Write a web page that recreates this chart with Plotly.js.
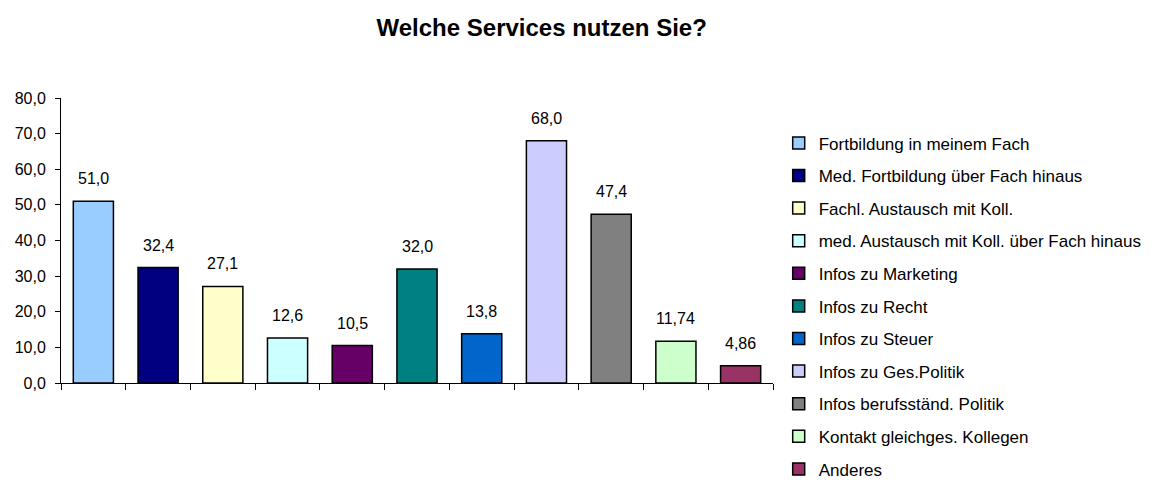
<!DOCTYPE html>
<html>
<head>
<meta charset="utf-8">
<script src="https://cdn.plot.ly/plotly-3.0.1.min.js"></script>
<style>html,body{margin:0;padding:0;background:#fff;}#chart{width:1170px;height:480px;}</style>
</head>
<body>
<div id="chart"></div>
<script>
const categories = [
  "Fortbildung in meinem Fach",
  "Med. Fortbildung über Fach hinaus",
  "Fachl. Austausch mit Koll.",
  "med. Austausch mit Koll. über Fach hinaus",
  "Infos zu Marketing",
  "Infos zu Recht",
  "Infos zu Steuer",
  "Infos zu Ges.Politik",
  "Infos berufsständ. Politik",
  "Kontakt gleichges. Kollegen",
  "Anderes"
];
const values = [51.0, 32.4, 27.1, 12.6, 10.5, 32.0, 13.8, 68.0, 47.4, 11.74, 4.86];
const valueLabels = ["51,0", "32,4", "27,1", "12,6", "10,5", "32,0", "13,8", "68,0", "47,4", "11,74", "4,86"];
const colors = ["#99CCFF", "#000080", "#FFFFCC", "#CCFFFF", "#660066", "#008080", "#0066CC", "#CCCCFF", "#808080", "#CCFFCC", "#993366"];
const yTickVals = [0, 10, 20, 30, 40, 50, 60, 70, 80];
const yTickText = ["0,0", "10,0", "20,0", "30,0", "40,0", "50,0", "60,0", "70,0", "80,0"];

const FONT = "Liberation Sans, Arial, sans-serif";

const traces = categories.map((name, i) => ({
  type: "bar",
  x: [i],
  y: [values[i]],
  width: [0.62],
  name: name,
  legendgroup: "g" + i,
  marker: { color: colors[i], line: { color: "#000000", width: 1.5 } },
  hoverinfo: "none"
}));

const annotations = categories.map((c, i) => ({
  x: i,
  y: values[i],
  xref: "x",
  yref: "y",
  text: valueLabels[i],
  showarrow: false,
  yanchor: "bottom",
  yshift: 12,
  font: { family: FONT, size: 16, color: "#000" }
}));

const xTickVals = [];
for (let k = 0; k <= categories.length; k++) xTickVals.push(k - 0.5);

const layout = {
  width: 1170,
  height: 480,
  paper_bgcolor: "#ffffff",
  plot_bgcolor: "#ffffff",
  margin: { l: 61, r: 397, t: 98, b: 97, autoexpand: false },
  barmode: "overlay",
  showlegend: true,
  title: {
    text: "<b>Welche Services nutzen Sie?</b>",
    font: { family: FONT, size: 24, color: "#000" },
    xref: "container",
    x: 0.463,
    xanchor: "center",
    yref: "container",
    y: 0.942,
    yanchor: "middle"
  },
  xaxis: {
    range: [-0.5, categories.length - 0.5],
    tickmode: "array",
    tickvals: xTickVals,
    showticklabels: false,
    ticks: "outside",
    ticklen: 6,
    tickcolor: "#000",
    tickwidth: 1,
    showline: true,
    linecolor: "#000",
    linewidth: 1,
    showgrid: false,
    zeroline: false,
    fixedrange: true
  },
  yaxis: {
    range: [0, 80],
    tickmode: "array",
    tickvals: yTickVals,
    ticktext: yTickText,
    ticks: "outside",
    ticklen: 5,
    tickcolor: "#000",
    tickwidth: 1,
    ticklabelstandoff: 6,
    showline: true,
    linecolor: "#000",
    linewidth: 1,
    showgrid: false,
    zeroline: false,
    tickfont: { family: FONT, size: 16, color: "#000" },
    fixedrange: true
  },
  legend: {
    x: 1.008,
    xanchor: "left",
    y: 0.904,
    yanchor: "top",
    maxheight: 420,
    tracegroupgap: 7.5,
    font: { family: FONT, size: 17, color: "#000" },
    bgcolor: "rgba(0,0,0,0)",
    itemclick: false,
    itemdoubleclick: false
  },
  annotations: annotations,
  hovermode: false
};

Plotly.newPlot("chart", traces, layout, { displayModeBar: false, staticPlot: true });
</script>
</body>
</html>
